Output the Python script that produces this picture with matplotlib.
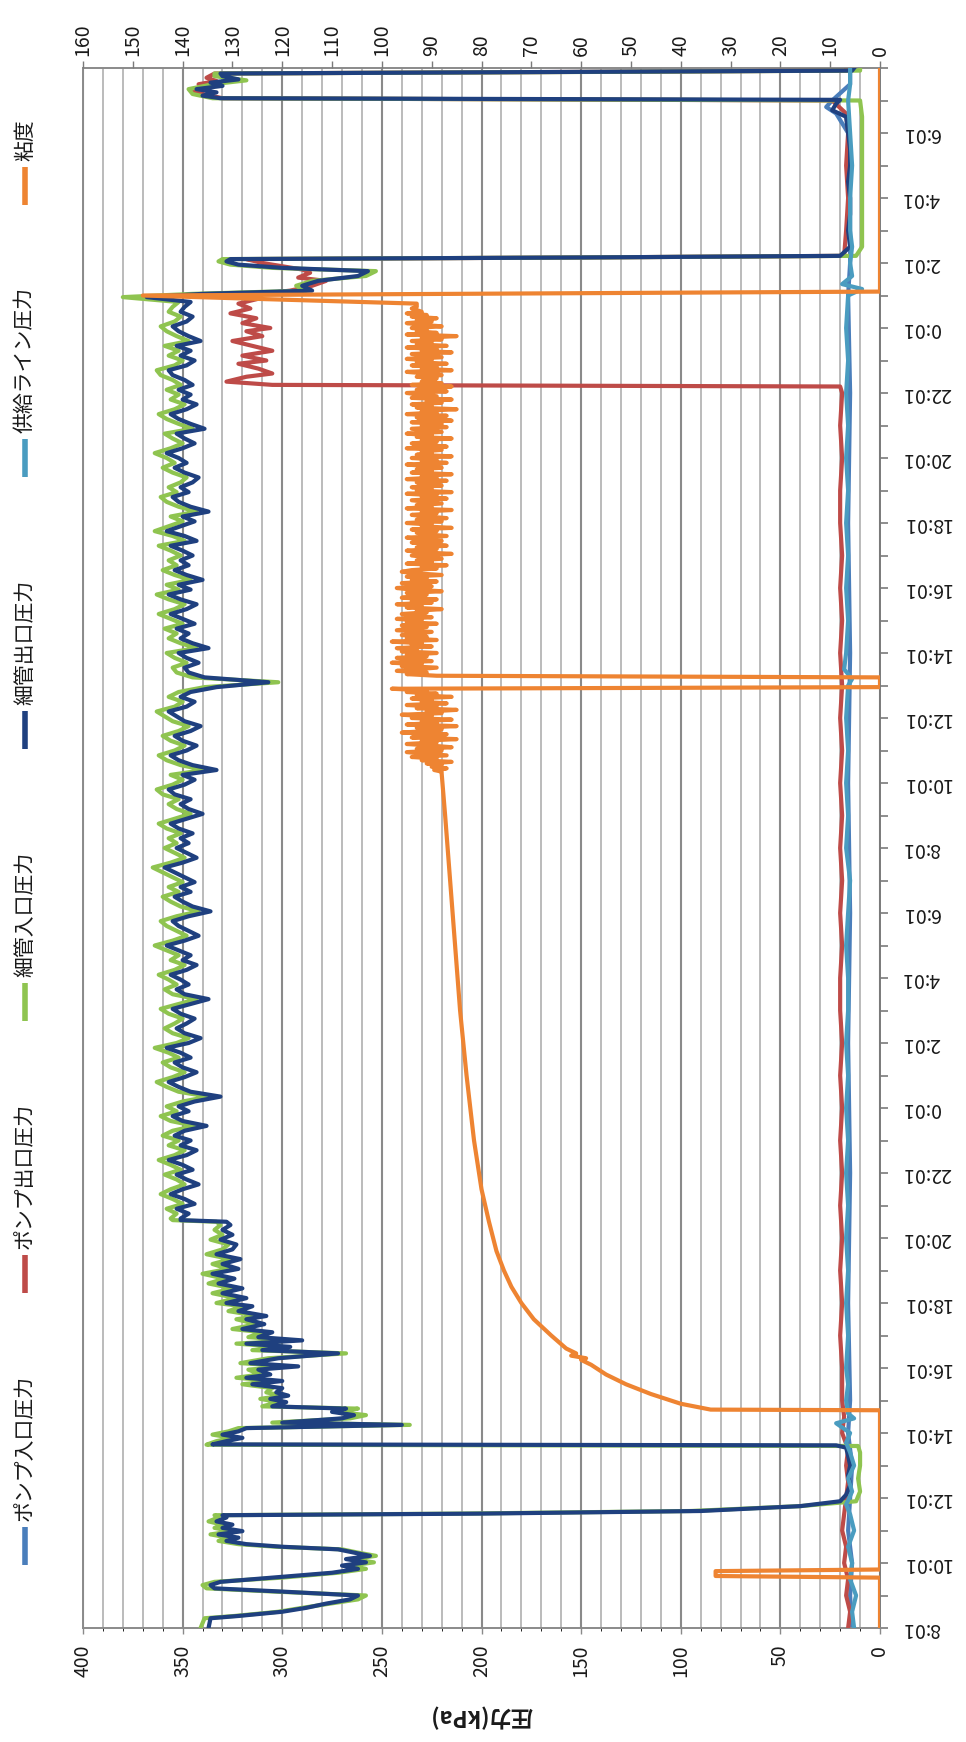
import matplotlib
matplotlib.use('Agg')
import matplotlib.pyplot as plt
from matplotlib.lines import Line2D
from matplotlib.ticker import FixedLocator, MultipleLocator

plt.rcParams['font.family'] = ['Noto Sans CJK JP', 'DejaVu Sans']

# ---------------- data (time in hours from 8:01 day 1) ----------------
TIME_LABELS = ['8:01', '10:01', '12:01', '14:01', '16:01', '18:01', '20:01', '22:01',
               '0:01', '2:01', '4:01', '6:01'] * 2
TIME_TICKS = list(range(0, 47, 2))

SERIES_NAMES = ['ポンプ入口圧力', 'ポンプ出口圧力', '細管入口圧力', '細管出口圧力', '供給ライン圧力', '粘度']

# logger sampling of the long steady run (start hour, step hour)
RUN_START, RUN_STEP = 12.60, 0.15

# 細管出口圧力 (navy) -- start-up part
T_NAVY_A = [0.00, 0.30, 0.37, 0.50, 0.62, 0.75, 0.88, 1.00, 1.12, 1.22, 1.32, 1.42, 1.55, 1.70, 1.82, 1.92,
            2.02, 2.12, 2.22, 2.32, 2.42, 2.50, 2.58, 2.68, 2.78, 2.88, 2.98, 3.08, 3.18, 3.28, 3.40, 3.47,
            3.52, 3.60, 3.75, 3.90, 4.10, 4.40, 4.70, 5.00, 5.30, 5.55, 5.62, 5.65,
            5.75, 5.85, 5.95, 6.05, 6.15, 6.25, 6.32, 6.45, 6.55, 6.65, 6.75, 6.82, 6.95, 7.05, 7.15, 7.25,
            7.38, 7.50, 7.60, 7.70, 7.80, 7.95, 8.05, 8.15, 8.30, 8.45, 8.55, 8.65, 8.75, 8.85, 8.95, 9.10,
            9.20, 9.35, 9.50, 9.60, 9.75, 9.90, 10.00, 10.15, 10.30, 10.45, 10.60, 10.75, 10.90, 11.05,
            11.20, 11.35, 11.50, 11.65, 11.80, 11.95, 12.10, 12.25, 12.40, 12.50, 12.55]
P_NAVY_A = [337, 336, 322, 300, 288, 278, 266, 262, 300, 334, 336, 331, 305, 275, 262, 270,
            258, 268, 256, 264, 272, 300, 318, 328, 322, 332, 320, 330, 325, 333, 328, 330,
            200, 90, 40, 20, 17, 15, 16, 15, 16, 17, 22, 335,
            328, 320, 330, 322, 318, 240, 300, 270, 264, 275, 268, 305, 298, 306, 297, 303,
            300, 315, 300, 318, 306, 312, 292, 316, 302, 272, 310, 296, 318, 290, 312, 305,
            320, 309, 318, 308, 322, 315, 328, 318, 330, 320, 332, 324, 335, 322,
            330, 321, 333, 325, 323, 331, 325, 330, 326, 328, 351]
# steady run (RUN_START + RUN_STEP * i)
P_NAVY_RUN = [351, 347, 353, 344, 349, 356, 350, 342, 348, 353,
              345, 350, 357, 348, 343, 351, 346, 354, 349, 338,
              350, 355, 347, 352, 344, 331, 346, 352, 357, 349,
              343, 350, 354, 346, 351, 358, 347, 341, 349, 353,
              348, 344, 351, 355, 346, 337, 349, 353, 347, 351,
              356, 348, 343, 350, 346, 352, 358, 349, 342, 347,
              352, 355, 347, 336, 345, 350, 354, 346, 351, 344,
              349, 354, 359, 350, 343, 348, 353, 347, 351, 345,
              352, 356, 348, 340, 347, 351, 346, 354, 357, 349,
              344, 350, 333, 345, 352, 356, 348, 343, 350, 354,
              346, 341, 349, 353, 357, 348, 344, 351, 346, 333,
              307, 339, 347, 349, 342, 348, 352, 337, 345, 351,
              347, 353, 344, 350, 356, 348, 343, 351, 357, 346,
              352, 340, 348, 354, 347, 351, 345, 350, 356, 343,
              349, 358, 351, 344, 350, 337, 346, 352, 355, 347,
              351, 345, 342, 349, 354, 348, 352, 358, 350, 344,
              349, 353, 339, 346, 352, 356, 348, 343, 350, 346,
              352, 345, 349, 355, 357, 348, 344, 351, 346, 353,
              341, 347, 352, 355, 348, 345, 351, 349, 346]
# shutdown part
T_NAVY_C = [40.95, 41.05, 41.15, 41.30, 41.45, 41.60, 41.75, 41.85, 41.95, 42.05,
            42.12, 42.17, 42.22, 42.50, 43.00, 43.50, 44.00, 44.50, 45.00, 45.50, 46.00, 46.50, 46.70, 46.90,
            47.02, 47.07, 47.15, 47.25, 47.35, 47.45, 47.55, 47.65, 47.75, 47.83, 47.88, 47.92, 48.00]
P_NAVY_C = [368, 340, 285, 290, 282, 262, 257, 300, 322, 328,
            326, 150, 20, 15, 16, 15, 15, 16, 15, 15, 16, 17, 24, 22,
            20, 331, 340, 333, 343, 330, 336, 322, 330, 331, 150, 14, 13]

# 細管入口圧力 (green)
T_GREEN_A = [0.00, 0.30, 0.37, 0.50, 0.62, 0.75, 0.88, 1.00, 1.12, 1.22, 1.32, 1.42, 1.55, 1.70, 1.82, 1.92,
             2.02, 2.12, 2.22, 2.32, 2.42, 2.50, 2.58, 2.68, 2.78, 2.88, 2.98, 3.08, 3.18, 3.28, 3.40, 3.47,
             3.52, 3.60, 3.75, 3.90, 4.20, 4.60, 5.00, 5.40, 5.60, 5.64,
             5.75, 5.85, 5.95, 6.05, 6.15, 6.25, 6.32, 6.45, 6.55, 6.65, 6.75, 6.82, 6.95, 7.05, 7.15, 7.25,
             7.38, 7.50, 7.60, 7.70, 7.80, 7.95, 8.05, 8.15, 8.30, 8.45, 8.55, 8.65, 8.75, 8.85, 8.95, 9.10,
             9.20, 9.35, 9.50, 9.60, 9.75, 9.90, 10.00, 10.15, 10.30, 10.45, 10.60, 10.75, 10.90, 11.05,
             11.20, 11.35, 11.50, 11.65, 11.80, 11.95, 12.10, 12.25, 12.40, 12.50, 12.55]
P_GREEN_A = [341, 339, 324, 302, 290, 276, 262, 258, 304, 338, 340, 334, 300, 272, 258, 266,
             254, 265, 253, 262, 270, 303, 322, 332, 327, 336, 325, 334, 330, 337, 332, 334,
             210, 95, 40, 12, 10, 11, 10, 10, 11, 338,
             333, 325, 335, 327, 322, 236, 305, 266, 258, 272, 262, 310, 302, 311, 300, 308,
             305, 320, 304, 323, 311, 317, 296, 321, 307, 268, 315, 300, 323, 294, 317, 310,
             325, 313, 323, 312, 327, 320, 333, 323, 335, 325, 337, 329, 340, 327,
             335, 326, 338, 330, 327, 336, 330, 334, 331, 333, 355]
P_GREEN_RUN = [356, 353, 358, 350, 355, 361, 356, 349, 353, 359,
               351, 356, 362, 354, 349, 357, 352, 360, 355, 344,
               356, 361, 353, 358, 350, 337, 352, 358, 363, 355,
               349, 356, 360, 352, 357, 364, 353, 347, 355, 359,
               354, 350, 357, 361, 352, 343, 355, 359, 353, 357,
               362, 354, 349, 356, 352, 358, 364, 355, 348, 353,
               358, 361, 353, 342, 351, 356, 360, 352, 357, 350,
               355, 360, 365, 356, 349, 354, 359, 353, 357, 351,
               358, 362, 354, 346, 353, 357, 352, 360, 363, 355,
               350, 356, 339, 351, 358, 362, 354, 349, 356, 360,
               352, 347, 355, 359, 363, 354, 350, 357, 352, 339,
               302, 345, 353, 355, 348, 354, 358, 343, 351, 357,
               353, 359, 350, 356, 362, 354, 349, 357, 363, 352,
               358, 346, 354, 360, 353, 357, 351, 356, 362, 349,
               355, 364, 357, 350, 356, 343, 352, 358, 361, 353,
               357, 351, 348, 355, 360, 354, 358, 364, 356, 350,
               355, 359, 345, 352, 358, 362, 354, 349, 356, 352,
               358, 351, 355, 361, 363, 354, 350, 357, 352, 359,
               347, 353, 358, 361, 354, 351, 357, 355, 352]
T_GREEN_C = [40.95, 41.05, 41.15, 41.30, 41.45, 41.60, 41.75, 41.85, 41.95, 42.05,
             42.12, 42.17, 42.22, 42.50, 43.50, 44.50, 45.50, 46.50, 47.00, 47.07, 47.20, 47.35, 47.50, 47.62,
             47.75, 47.83, 47.88, 47.92, 48.00]
P_GREEN_C = [380, 345, 288, 293, 285, 258, 253, 305, 326, 332,
             330, 150, 12, 9, 9, 9, 9, 9, 10, 335, 345, 347, 335, 318,
             334, 334, 140, 10, 10]

# ポンプ出口圧力 (red)
T_RED = [0, 0.5, 1, 1.5, 2, 2.5, 3, 3.5, 4, 4.5, 5, 5.5, 6, 6.5, 7, 8, 9, 10, 11, 12, 13, 14, 15,
         16, 17, 18, 19, 20, 21, 22, 23, 24, 25, 26, 27, 28, 29, 30, 31, 32, 33, 34, 35, 36, 37, 38,
         38.2, 38.25, 38.35, 38.5, 38.6, 38.75, 38.9, 39.0, 39.15, 39.3, 39.45, 39.6, 39.75, 39.9, 40.0,
         40.15, 40.3, 40.45, 40.6, 40.75, 40.9, 41.0, 41.15, 41.3, 41.45, 41.55, 41.7, 41.8, 41.9, 42.0,
         42.12, 42.17, 42.22, 43, 44, 45, 46, 46.6, 47.0, 47.07, 47.2, 47.3, 47.4, 47.5, 47.6, 47.7,
         47.83, 47.88, 47.92, 48]
P_RED = [16, 15, 17, 16, 18, 17, 19, 18, 17, 16, 17, 16, 19, 18, 19, 19, 20, 19, 20, 19, 20, 19, 20,
         19, 20, 19, 20, 20, 19, 20, 19, 20, 19, 20, 19, 20, 19, 20, 19, 20, 19, 20, 20, 19, 20, 19,
         20, 305, 328, 318, 305, 312, 322, 308, 320, 305, 315, 325, 310, 318, 306,
         320, 313, 326, 316, 322, 312, 318, 296, 285, 278, 292, 286, 290, 300, 310,
         318, 150, 18, 17, 16, 17, 16, 17, 24, 330, 340, 345, 338, 342, 333, 338,
         334, 150, 17, 17]

# ポンプ入口圧力 (blue)
T_BLUE = [0, 1, 2, 3, 4, 5, 6, 7, 10, 14, 18, 22, 26, 30, 34, 38, 41, 42, 44, 46, 46.6, 46.8, 47.0, 47.5, 48]
P_BLUE = [14, 15, 14, 16, 15, 14, 16, 15, 16, 15, 16, 15, 16, 15, 16, 15, 16, 15, 15, 16, 22, 27, 24, 15, 15]

# 供給ライン圧力 (teal)
T_TEAL = [0, 0.5, 1.0, 1.5, 2.0, 2.5, 3.0, 3.5, 3.8, 4.2, 4.6, 5.0, 5.4, 5.7, 6.0, 6.3, 6.45, 6.6, 7.0,
          7.5, 8, 9, 10, 11, 12, 13, 14, 15, 16, 17, 18, 19, 20, 21, 22, 23, 24, 25, 26, 27, 28, 29,
          29.2, 29.5, 30, 31, 32, 33, 34, 35, 36, 37, 38, 39, 40, 41, 41.2, 41.35, 41.6, 42, 42.5, 43, 44,
          45, 46, 47, 47.5, 48]
P_TEAL = [13, 14, 12, 15, 14, 16, 13, 15, 17, 14, 16, 13, 15, 17, 15, 22, 13, 16, 17,
          16, 17, 16, 17, 16, 17, 16, 17, 16, 17, 16, 17, 16, 16, 17, 16, 15, 17, 16, 17, 16, 17, 16,
          14, 18, 17, 16, 17, 16, 17, 16, 17, 16, 17, 16, 17, 16, 9, 19, 14, 15, 14, 15, 15,
          14, 15, 16, 15, 15]

# 粘度 (orange, top axis)
T_VISC_A = [0, 1.55, 1.60, 1.75, 1.80, 6.70, 6.72, 6.90, 7.20, 7.50, 7.80, 8.10, 8.25, 8.30, 8.38, 8.45,
            8.60, 9.00, 9.50, 10.00, 10.50, 11.00, 11.60, 12.50, 13.50, 15.00, 17.00, 19.00, 21.00, 23.00,
            25.00, 26.30]
V_VISC_A = [0, 0, 33, 33, 0, 0, 34, 40, 46, 51, 55, 58, 60, 59, 62, 61,
            63, 66, 69.5, 72, 74, 75.5, 77, 78.5, 80, 81.5, 83, 84.3, 85.3, 86.3,
            87.3, 88]
VISC_START, VISC_STEP = 26.35, 0.05
V_VISC_RUN = [88, 89.5, 87, 90, 88, 91, 86, 92, 89, 94, 87, 91, 95, 88, 93, 86, 90, 95, 89, 92,
              85, 94, 90, 87, 96, 91, 88, 93, 85, 95, 89, 92, 86, 94, 90, 96, 88, 91, 85, 93,
              89, 95, 87, 92, 90, 94, 86, 93, 89, 95, 91,
              98, 0, 0, 0, 0, 0, 0, 0, 89,
              95, 91, 97, 93, 89, 96, 92, 98, 90, 94, 97, 91, 95, 89, 96, 93, 97, 90, 94, 92,
              98, 89, 95, 91, 96, 93, 90, 97, 94, 91, 96, 89, 95, 92, 97, 90, 94, 96, 91, 93,
              88, 95, 92, 97, 90, 94, 89, 96, 93, 91, 95, 88, 94, 97, 90, 92, 96, 89, 94, 91,
              95, 88, 93, 96,
              94, 89, 92, 87, 95, 90, 93, 88, 91, 94, 86, 92, 95, 89, 93, 87, 90, 94, 88, 92,
              95, 87, 91, 93, 89, 94, 86, 92, 90, 95, 88, 93, 87, 91, 94, 89, 92, 86, 95, 90,
              93, 88, 91, 94, 87, 92, 89, 95, 86, 93, 90, 94, 88, 91, 93, 87, 95, 89, 92, 86,
              94, 90, 93, 88, 91, 95, 87, 92, 89, 94, 86, 93, 90, 92, 88, 95, 87, 91, 94, 89,
              92, 86, 93, 90, 95, 88, 91, 94, 87,
              92, 88, 94, 86, 91, 93, 87, 95, 89, 92, 85, 93, 90, 94, 88, 91, 86, 94, 89, 92,
              95, 87, 93, 90, 86, 94, 88, 92, 91, 89,
              93, 88, 91, 95, 86, 92, 89, 94, 87, 93, 90, 95, 88, 91, 94, 86, 92, 89, 95, 87,
              93, 90, 94, 88, 92, 85, 95, 89, 93, 91, 94, 88, 92, 95, 90, 93, 89, 94, 91, 95,
              92, 93, 94, 93]
T_VISC_C = [40.75, 40.85, 41.00, 41.12, 48.00]
V_VISC_C = [93, 115, 148, 0, 0]

COLORS = ['#4A7EBB', '#BE4B48', '#8FC450', '#1F407F', '#4A9CC0', '#EE8432']


def run_times(start, step, n):
    return [start + step * i for i in range(n)]


T_NAVY = T_NAVY_A + run_times(RUN_START, RUN_STEP, len(P_NAVY_RUN)) + T_NAVY_C
P_NAVY = P_NAVY_A + P_NAVY_RUN + P_NAVY_C
T_GREEN = T_GREEN_A + run_times(RUN_START, RUN_STEP, len(P_GREEN_RUN)) + T_GREEN_C
P_GREEN = P_GREEN_A + P_GREEN_RUN + P_GREEN_C
T_VISC = T_VISC_A + run_times(VISC_START, VISC_STEP, len(V_VISC_RUN)) + T_VISC_C
V_VISC = V_VISC_A + V_VISC_RUN + V_VISC_C

# ---------------- figure ----------------
W, H = 966, 1742
fig = plt.figure(figsize=(W / 100, H / 100), dpi=100)
L, R, T, B = 83, 880, 68, 1628
ax = fig.add_axes([L / W, 1 - B / H, (R - L) / W, (B - T) / H])
ax.set_xlim(400, 0)
ax.set_ylim(0, 48)

GRID_MAJ = '#8a8a8a'
GRID_MIN = '#a8a8a8'
TXT = '#1a1a1a'

ax.xaxis.set_major_locator(MultipleLocator(50))
ax.xaxis.set_minor_locator(MultipleLocator(10))
ax.grid(axis='x', which='major', color=GRID_MAJ, lw=1.5)
ax.grid(axis='x', which='minor', color=GRID_MIN, lw=1.1)
ax.set_axisbelow(True)

ax.tick_params(axis='x', which='major', bottom=True, top=False, length=4, width=1,
               color=GRID_MAJ, labelrotation=90, labelsize=14, pad=8, labelcolor=TXT)
ax.tick_params(axis='x', which='minor', bottom=False, top=False)

ax.yaxis.tick_right()
ax.yaxis.set_major_locator(FixedLocator(TIME_TICKS))
ax.yaxis.set_minor_locator(MultipleLocator(1))
ax.set_yticklabels(TIME_LABELS)
ax.tick_params(axis='y', which='both', right=True, left=False, length=6, width=1.2,
               color='#7a7a7a', direction='out')
ax.tick_params(axis='y', which='major', labelsize=14, pad=10, labelcolor=TXT)
for lab in ax.get_yticklabels():
    lab.set_rotation(180)
    lab.set_va('center')

for s in ax.spines.values():
    s.set_color('#8a8a8a')
    s.set_linewidth(1.4)
ax.spines['right'].set_color('#7a7a7a')

ax.set_xlabel('圧力(kPa)', rotation=180, fontsize=16, fontweight='bold', color=TXT)
ax.xaxis.set_label_coords(0.5, -0.056)
ax.xaxis.label.set_va('center')

lw = 3.0
ax.plot(P_BLUE, T_BLUE, color=COLORS[0], lw=lw, zorder=2)
ax.plot(P_RED, T_RED, color=COLORS[1], lw=lw, zorder=3)
ax.plot(P_GREEN, T_GREEN, color=COLORS[2], lw=lw, zorder=4)
ax.plot(P_NAVY, T_NAVY, color=COLORS[3], lw=lw, zorder=5)
ax.plot(P_TEAL, T_TEAL, color=COLORS[4], lw=lw, zorder=6)

ax2 = ax.twiny()
ax2.set_xlim(160, 0)
ax2.xaxis.set_major_locator(MultipleLocator(10))
ax2.tick_params(axis='x', which='major', top=True, length=5, width=1, color='#7a7a7a',
                labelrotation=90, labelsize=14, pad=4, labelcolor=TXT)
for s in ax2.spines.values():
    s.set_visible(False)
ax2.plot(V_VISC, T_VISC, color=COLORS[5], lw=lw, zorder=7)

# ---------------- legend (vertical, rotated text) ----------------
leg_x = 25
leg_bottoms = [1565, 1293, 1021, 749, 477, 205]
for name, col, yb in zip(SERIES_NAMES, COLORS, leg_bottoms):
    fig.add_artist(Line2D([leg_x / W, leg_x / W], [1 - yb / H, 1 - (yb - 38) / H],
                          color=col, lw=4, solid_capstyle='butt'))
    fig.text(leg_x / W, 1 - (yb - 44) / H, name, rotation=90, ha='center', va='bottom',
             fontsize=15, color=TXT)

fig.savefig('out.png', dpi=100, facecolor='white')
